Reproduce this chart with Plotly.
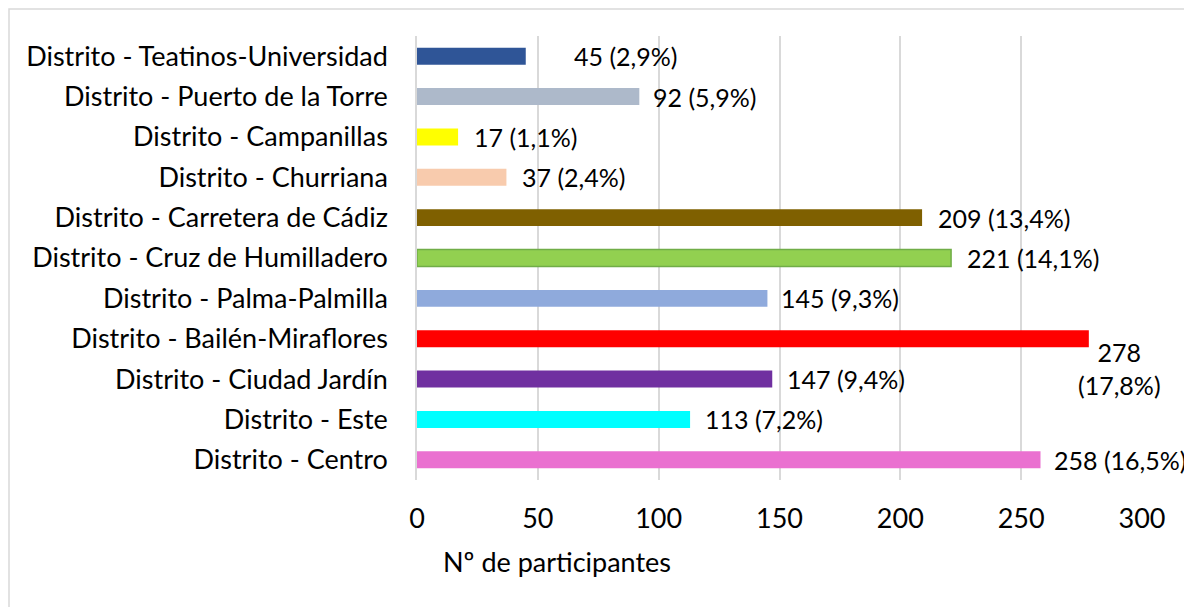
import plotly.graph_objects as go

# Data (top to bottom as in the reference)
districts = [
    "Distrito - Teatinos-Universidad",
    "Distrito - Puerto de la Torre",
    "Distrito - Campanillas",
    "Distrito - Churriana",
    "Distrito - Carretera de Cádiz",
    "Distrito - Cruz de Humilladero",
    "Distrito - Palma-Palmilla",
    "Distrito - Bailén-Miraflores",
    "Distrito - Ciudad Jardín",
    "Distrito - Este",
    "Distrito - Centro",
]
participants = [45, 92, 17, 37, 209, 221, 145, 278, 147, 113, 258]
percent_labels = ["2,9%", "5,9%", "1,1%", "2,4%", "13,4%", "14,1%", "9,3%", "17,8%", "9,4%", "7,2%", "16,5%"]
x_ticks = [0, 50, 100, 150, 200, 250, 300]

# Styles
bar_colors = ["#2F5597", "#ADB9CA", "#FFFF00", "#F8CBAD", "#7F6000", "#92D050",
              "#8FAADC", "#FF0000", "#7030A0", "#00FFFF", "#EA70D0"]
bar_lines = ["rgba(0,0,0,0)"] * 11
bar_lines[5] = "#70AD47"
label_xshift = [46, 12, 14, 14, 14, 14, 12, 31, 13, 13, 11]
label_yshift = [0, 0, 0, 0, 0, 0, 0, -30, 0, 0, 0]
label_anchor = ["left"] * 11
label_anchor[7] = "center"

FONT = "Lato"
FS = 27
FS_LABEL = 25
GRID = "#d9d9d9"
W, H = 1184, 599
ML, MR, MT, MB = 409, 50, 28, 127
PW, PH = W - ML - MR, H - MT - MB

fig = go.Figure()
fig.add_trace(go.Bar(
    y=districts, x=participants, orientation="h",
    marker=dict(color=bar_colors, line=dict(color=bar_lines, width=1.5)),
    hoverinfo="x+y",
))

for d, v, p, xs, ys, a in zip(districts, participants, percent_labels,
                              label_xshift, label_yshift, label_anchor):
    txt = f"{v}<br>({p})" if a == "center" else f"{v} ({p})"
    fig.add_annotation(x=v, y=d, xref="x", yref="y", text=txt, showarrow=False,
                       xanchor=a, yanchor="middle", xshift=xs, yshift=ys,
                       align="center", font=dict(family=FONT, size=FS_LABEL, color="#000"))

fig.add_annotation(x=0, y=0, xref="paper", yref="paper", text="Nº de participantes",
                   showarrow=False, xanchor="left", yanchor="middle",
                   xshift=24, yshift=-81, font=dict(family=FONT, size=FS, color="#000"))

# outer border
fig.add_shape(type="rect", xref="paper", yref="paper",
              x0=(1 - ML) / PW, x1=(W + 20 - ML) / PW,
              y0=(PH + MT - H - 20) / PH, y1=(PH + MT - 1) / PH,
              line=dict(color=GRID, width=1.5), fillcolor="rgba(0,0,0,0)", layer="below")

fig.update_layout(
    width=W, height=H,
    margin=dict(l=ML, r=MR, t=MT, b=MB),
    paper_bgcolor="white", plot_bgcolor="white",
    bargap=0.58, showlegend=False,
    font=dict(family=FONT, size=FS, color="#000"),
)
fig.update_xaxes(range=[0, 300], tickvals=x_ticks, showgrid=True, gridcolor=GRID, gridwidth=1.5,
                 zeroline=False, showline=False, ticks="", ticklabelstandoff=20,
                 tickfont=dict(family=FONT, size=FS, color="#000"))
fig.update_yaxes(categoryorder="array", categoryarray=districts[::-1],
                 showline=True, linecolor=GRID, linewidth=1.5, ticks="",
                 ticklabelstandoff=22, tickfont=dict(family=FONT, size=FS, color="#000"))

fig.write_html("out.html")
